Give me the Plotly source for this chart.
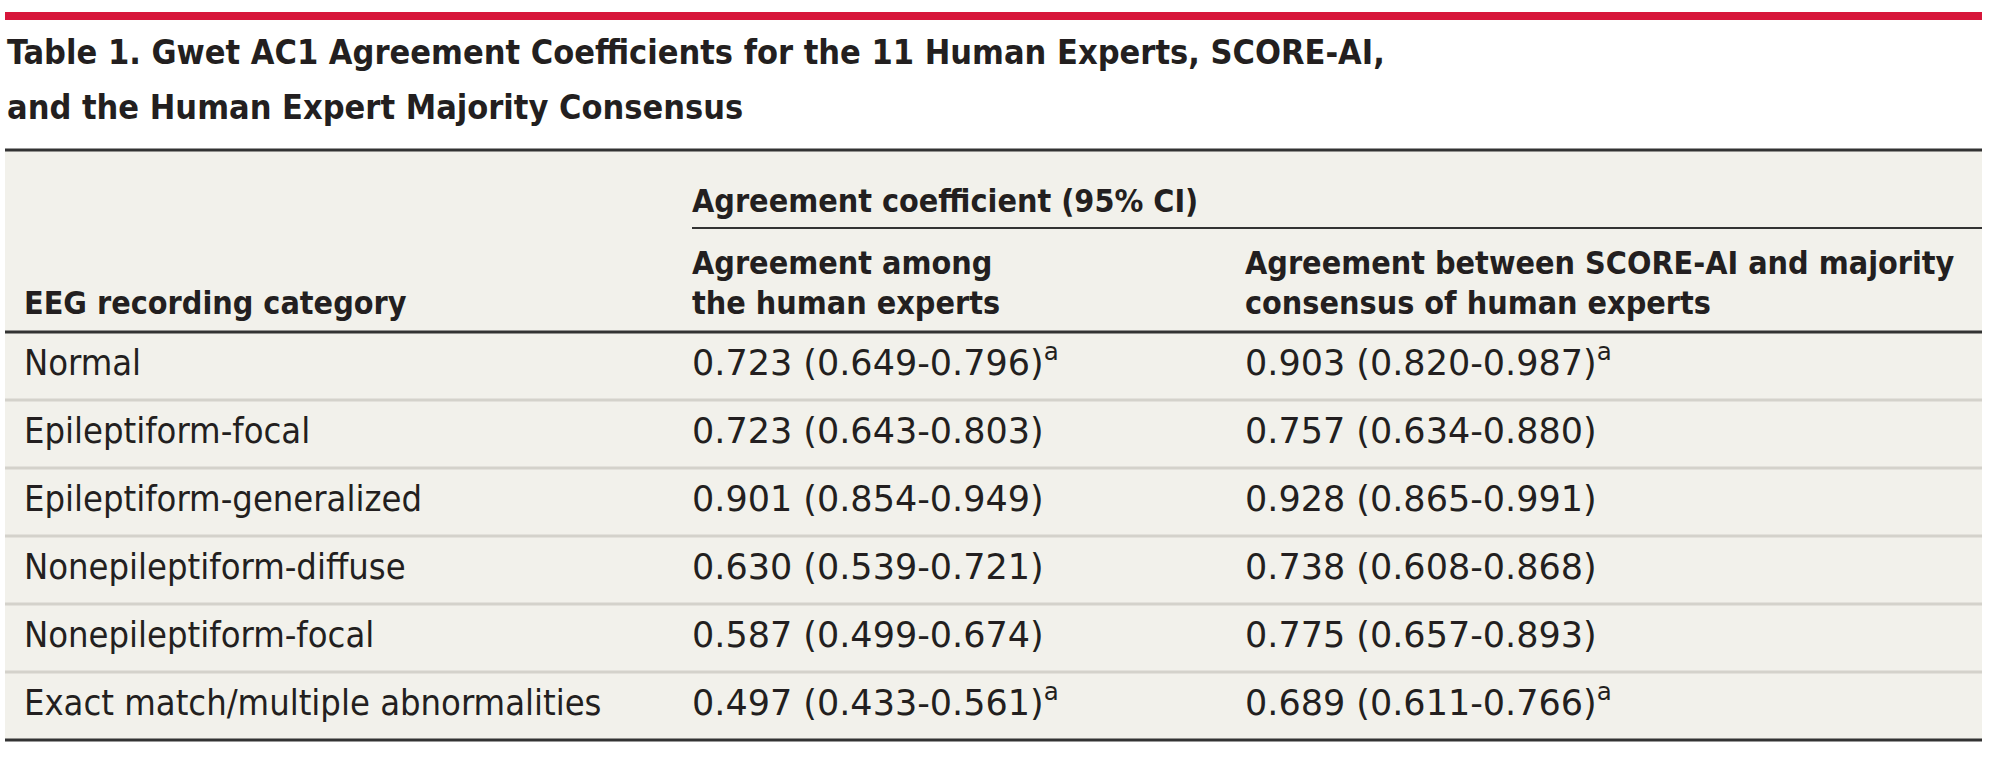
import plotly.graph_objects as go

# ---------------- data ----------------
title_lines = [
    "Table 1. Gwet AC1 Agreement Coefficients for the 11 Human Experts, SCORE-AI,",
    "and the Human Expert Majority Consensus",
]
col0_header = ["EEG recording category"]
span_header = "Agreement coefficient (95% CI)"
col1_header = ["Agreement among", "the human experts"]
col2_header = ["Agreement between SCORE-AI and majority", "consensus of human experts"]

categories = [
    "Normal",
    "Epileptiform-focal",
    "Epileptiform-generalized",
    "Nonepileptiform-diffuse",
    "Nonepileptiform-focal",
    "Exact match/multiple abnormalities",
]
human_est = [0.723, 0.723, 0.901, 0.630, 0.587, 0.497]
human_lo = [0.649, 0.643, 0.854, 0.539, 0.499, 0.433]
human_hi = [0.796, 0.803, 0.949, 0.721, 0.674, 0.561]
human_note = [True, False, False, False, False, True]

ai_est = [0.903, 0.757, 0.928, 0.738, 0.775, 0.689]
ai_lo = [0.820, 0.634, 0.865, 0.608, 0.657, 0.611]
ai_hi = [0.987, 0.880, 0.991, 0.868, 0.893, 0.766]
ai_note = [True, False, False, False, False, True]


def fmt(e, lo, hi, note):
    s = f"{e:.3f} ({lo:.3f}-{hi:.3f})"
    if note:
        s += "<sup>a</sup>"
    return s


human_txt = [fmt(*v) for v in zip(human_est, human_lo, human_hi, human_note)]
ai_txt = [fmt(*v) for v in zip(ai_est, ai_lo, ai_hi, ai_note)]

# ---------------- layout constants ----------------
W, H = 2000, 784
FONT = "'DejaVu Sans Condensed', 'Liberation Sans Narrow', 'Liberation Sans', sans-serif"
FONT_NUM = "'DejaVu Sans', 'Liberation Sans', sans-serif"
TXT = "#231f20"
BG = "#f2f1eb"
RED = "#d7163a"
DARK = "#333333"
SEP = "#d4d2cb"

LEFT, RIGHT = 5, 1982
COL_X = [24, 692, 1245]
FS_BODY = 36
FS_NUM = 35
FS_HEAD = 32
FS_TITLE = 34
MID = 0.2  # effective baseline shift for middle anchor (em)

TABLE_TOP = 150
HEAD_BOTTOM = 332
ROW_H = 68
N = len(categories)
TABLE_BOTTOM = HEAD_BOTTOM + ROW_H * N

TITLE_BASE = [62, 117]
SPAN_BASE = 210
SUB_RULE = 228
HEAD_BASE = [272, 312]
BODY_BASE0 = 373


def ypos(baseline, fs):
    return baseline - MID * fs


fig = go.Figure()


def text_trace(xs, ys, texts, fs, bold=False, family=FONT):
    fig.add_trace(go.Scatter(
        x=xs, y=ys, text=texts, mode="text",
        textposition="middle right",
        textfont=dict(family=family, size=fs, color=TXT,
                      weight=700 if bold else 400),
        hoverinfo="skip", showlegend=False, cliponaxis=False,
    ))


# title
text_trace([7] * len(title_lines), [ypos(b, FS_TITLE) for b in TITLE_BASE],
           title_lines, FS_TITLE, bold=True)

# headers
text_trace([COL_X[1]], [ypos(SPAN_BASE, FS_HEAD)], [span_header], FS_HEAD, bold=True)
text_trace([COL_X[0]], [ypos(HEAD_BASE[-1], FS_HEAD)], col0_header, FS_HEAD, bold=True)
text_trace([COL_X[1]] * len(col1_header), [ypos(b, FS_HEAD) for b in HEAD_BASE],
           col1_header, FS_HEAD, bold=True)
text_trace([COL_X[2]] * len(col2_header), [ypos(b, FS_HEAD) for b in HEAD_BASE],
           col2_header, FS_HEAD, bold=True)

# body
row_y = [ypos(BODY_BASE0 + ROW_H * i, FS_BODY) for i in range(N)]
text_trace([COL_X[0]] * N, row_y, categories, FS_BODY)
text_trace([COL_X[1]] * N, row_y, human_txt, FS_NUM, family=FONT_NUM)
text_trace([COL_X[2]] * N, row_y, ai_txt, FS_NUM, family=FONT_NUM)

# shapes
shapes = []
shapes.append(dict(type="rect", xref="x", yref="y", x0=LEFT, x1=RIGHT,
                   y0=TABLE_TOP, y1=TABLE_BOTTOM, fillcolor=BG, line_width=0, layer="below"))
shapes.append(dict(type="line", xref="x", yref="y", x0=LEFT, x1=RIGHT, y0=16, y1=16,
                   line=dict(color=RED, width=8)))
for yy, w in [(TABLE_TOP, 3), (HEAD_BOTTOM, 3), (TABLE_BOTTOM, 3)]:
    shapes.append(dict(type="line", xref="x", yref="y", x0=LEFT, x1=RIGHT, y0=yy, y1=yy,
                       line=dict(color=DARK, width=w)))
shapes.append(dict(type="line", xref="x", yref="y", x0=COL_X[1], x1=RIGHT,
                   y0=SUB_RULE, y1=SUB_RULE, line=dict(color=DARK, width=2)))
for i in range(1, N):
    yy = HEAD_BOTTOM + ROW_H * i
    shapes.append(dict(type="line", xref="x", yref="y", x0=LEFT, x1=RIGHT, y0=yy, y1=yy,
                       line=dict(color=SEP, width=3)))

fig.update_layout(
    width=W, height=H,
    margin=dict(l=0, r=0, t=0, b=0, pad=0),
    paper_bgcolor="white", plot_bgcolor="white",
    xaxis=dict(range=[0, W], visible=False, fixedrange=True),
    yaxis=dict(range=[H, 0], visible=False, fixedrange=True),
    shapes=shapes,
    showlegend=False,
)

fig.write_html("out.html", post_script="document.body.style.margin='0';",
               config={"displayModeBar": False, "staticPlot": True})
